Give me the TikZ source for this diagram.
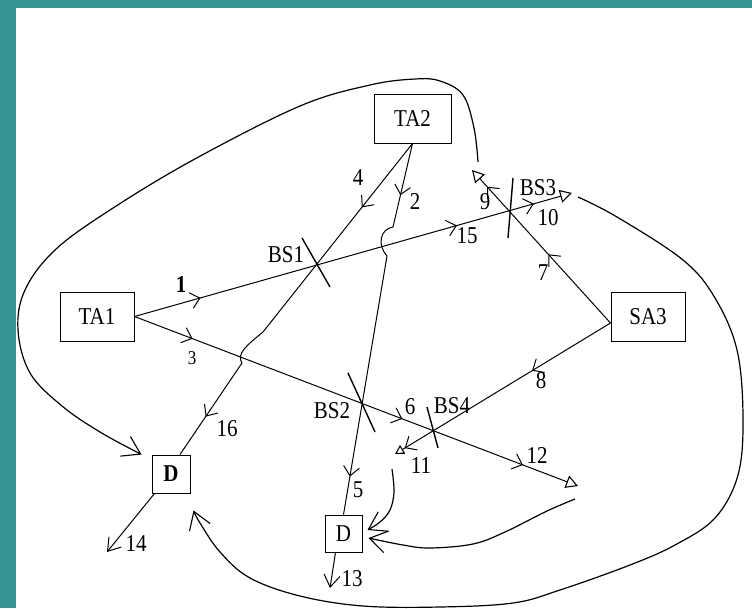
\documentclass[tikz,border=0pt]{standalone}
\usepackage{graphicx}
\usepackage{fontspec}
\setmainfont{Liberation Serif}
\usetikzlibrary{arrows.meta,decorations.markings}
\definecolor{frameteal}{RGB}{53,148,145}
% slightly tall lettering
\newcommand\vtxt[1]{\scalebox{1}[1.15]{#1}}

\begin{document}
\begin{tikzpicture}[x=1pt,y=-1pt,
  every node/.style={font=\fontsize{21}{24}\selectfont, inner sep=0pt},
  blk/.style={draw, line width=1pt, fill=white},
  wire/.style={line width=1pt},
  bigcurve/.style={line width=1.2pt},
  bsmark/.style={line width=1.4pt},
  flowmark/.style={postaction={decorate,decoration={markings,
      mark=at position #1 with {\arrow{Straight Barb[length=9pt,width=16pt,line width=1pt]}}}}},
  openend/.style={-{Triangle[open,length=12pt,width=13pt,line width=1.1pt]}},
  smallopen/.style={-{Triangle[open,length=9pt,width=10pt,line width=1.1pt]}},
  barbsmall/.style={-{Straight Barb[length=12pt,width=16pt,line width=1pt]}},
  barbend/.style={-{Straight Barb[length=17pt,width=22pt,line width=1.1pt]}},
]
% frame
\fill[frameteal] (0,0) rectangle (752,608);
\fill[white] (16,8) rectangle (752,608);
\useasboundingbox (0,0) rectangle (752,608);

% blocks
\node[blk, minimum width=74pt, minimum height=49pt] (TA1) at (97,316.5) {\vtxt{TA1}};
\node[blk, minimum width=77pt, minimum height=49pt] (TA2) at (412.5,118.5) {\vtxt{TA2}};
\node[blk, minimum width=74pt, minimum height=49pt] (SA3) at (648,316.5) {\vtxt{SA3}};
\node[blk, minimum width=38pt, minimum height=38pt] (D1) at (171,474) {\vtxt{\textbf{D}}};
\node[blk, minimum width=37pt, minimum height=37pt] (D2) at (343.5,533.5) {\vtxt{D}};

% free ends and bend points
\coordinate (t10) at (572,193);
\coordinate (t12) at (578,486);
\coordinate (t9) at (472,170);
\coordinate (t11) at (395,454);
\coordinate (e13) at (330,588);
\coordinate (e14) at (107,552);
\coordinate (h2a) at (393,227);
\coordinate (h2b) at (387,256);
\coordinate (h4a) at (263,332);
\coordinate (h4b) at (242,363);
\coordinate (c1s) at (478,162);
\coordinate (c1e) at ([xshift=-10pt]D1.north west);
\coordinate (c2s) at (578,197);
\coordinate (c2e) at ([shift={(3pt,-17pt)}]D1.south east);
\coordinate (c3s) at (575,499);
\coordinate (c3e) at ([shift={(6pt,-4.5pt)}]D2.east);
\coordinate (c4s) at (392,469);
\coordinate (c4e) at ([shift={(5pt,3.5pt)}]D2.east);

% straight signal paths
\draw[wire, openend, flowmark=0.151, flowmark=0.737, flowmark=0.913] (TA1.east) -- (t10);
\draw[wire, openend, flowmark=0.131, flowmark=0.604, flowmark=0.876] (TA1.east) -- (t12);
\draw[wire, openend, flowmark=0.449, flowmark=0.891] ([yshift=-6.5pt]SA3.west) -- (t9);
\draw[wire, smallopen, flowmark=0.364, flowmark=0.955] ([yshift=-6.5pt]SA3.west) -- (t11);

% TA2 to lower D, hopping over the upper path
\draw[wire, flowmark=0.62] (TA2.south) -- (h2a);
\draw[wire] (h2a) .. controls (380,229) and (377,245) .. (h2b);
\draw[wire, flowmark=0.853] (h2b) -- (D2.north);

% TA2 to upper D, hopping over the lower path
\draw[wire, flowmark=0.339] (TA2.south) -- (h4a);
\draw[wire] (h4a) .. controls (247,345) and (236,354) .. (h4b);
\draw[wire, flowmark=0.587] (h4b) -- ([xshift=9pt]D1.north);

% outputs
\draw[wire, barbsmall] ([xshift=-8pt]D2.south) -- (e13);
\draw[wire, barbsmall] ([xshift=3pt]D1.south west) -- (e14);

% beam splitters
\draw[bsmark] (302,238) -- (330,287);
\draw[bsmark] (348,373) -- (375,432);
\draw[bsmark] (513,178) -- (508,238);
\draw[bsmark] (427,407) -- (438,448);

% return loops
\draw[bigcurve, barbend] plot[smooth, tension=0.6] coordinates {(c1s) (474,128) (463,95) (440,81) (415,79) (370,85) (300,106) (193,160) (110,210) (55,250) (25,290) (18,330) (30,373) (62,406) (100,432) (c1e)};
\draw[bigcurve, barbend] plot[smooth, tension=0.6] coordinates {(c2s) (617,217) (683,260) (715,298) (737,350) (743,417) (738,475) (715,518) (675,545) (630,565) (560,590) (513,603) (440,607) (363,606) (300,596) (250,578) (220,552) (200,523) (c2e)};
\draw[bigcurve, barbend] plot[smooth, tension=0.6] coordinates {(c3s) (547,511) (505,532) (473,544) (430,548) (403,545) (c3e)};
\draw[bigcurve, barbend] plot[smooth, tension=0.6] coordinates {(c4s) (394,492) (390,510) (380,522) (c4e)};

% labels
\node at (181,285) {\vtxt{\textbf{1}}};
\node at (286,255) {\vtxt{BS1}};
\node at (358,178) {\vtxt{4}};
\node at (415,202) {\vtxt{2}};
\node at (485,202) {\vtxt{9}};
\node at (538,188) {\vtxt{BS3}};
\node at (548,218) {\vtxt{10}};
\node at (467,236) {\vtxt{15}};
\node at (543,273) {\vtxt{7}};
\node at (541,381) {\vtxt{8}};
\node[font=\fontsize{17}{20}\selectfont] at (192,358) {\vtxt{3}};
\node at (227,429) {\vtxt{16}};
\node at (136,544) {\vtxt{14}};
\node at (332,411) {\vtxt{BS2}};
\node at (410,407) {\vtxt{6}};
\node at (452,406) {\vtxt{BS4}};
\node at (421,466) {\vtxt{11}};
\node at (537,455) {\vtxt{12}};
\node at (358,490) {\vtxt{5}};
\node at (352,579) {\vtxt{13}};
\end{tikzpicture}
\end{document}
